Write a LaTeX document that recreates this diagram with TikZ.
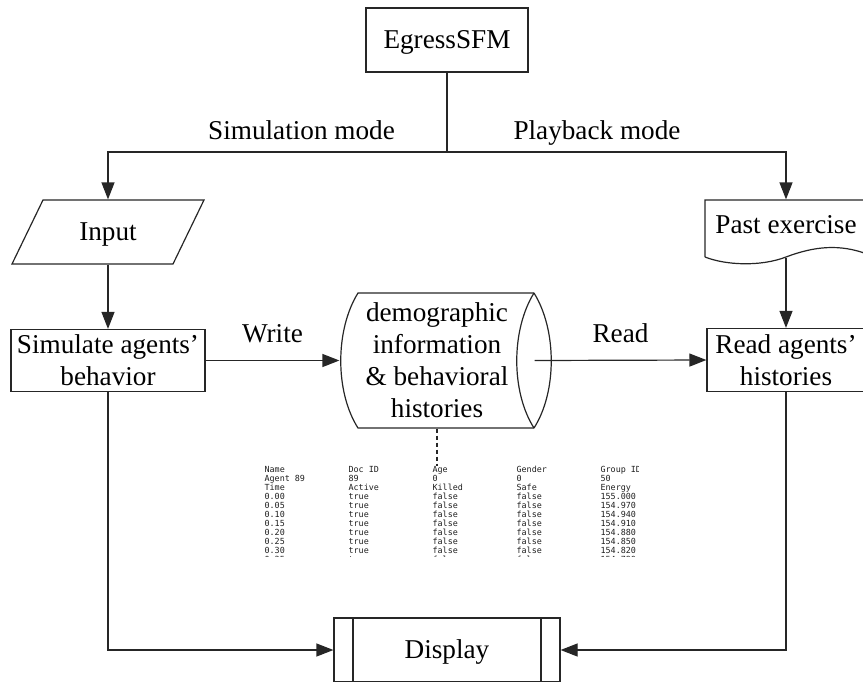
\documentclass[tikz,border=0pt]{standalone}
\usepackage{fontspec}
\setmainfont{Liberation Serif}
\newfontfamily\logfont{DejaVu Sans Mono}
\usetikzlibrary{arrows.meta}

\begin{document}
\begin{tikzpicture}[x=0.5pt,y=-0.5pt,
  line width=0.6pt, draw=black!85,
  every node/.style={font=\fontsize{13.6pt}{16pt}\selectfont, inner sep=0pt},
  arr/.style={-{Triangle[length=8.5pt,width=6.5pt]}},
  oneline/.style={text height=9.5pt, text depth=1pt},
  box/.style={draw, rectangle, align=center},
  dispbox/.style={draw, rectangle,
    path picture={
      \draw ([xshift=9.5pt]path picture bounding box.north west) -- ([xshift=9.5pt]path picture bounding box.south west);
      \draw ([xshift=-9.5pt]path picture bounding box.north east) -- ([xshift=-9.5pt]path picture bounding box.south east);
    }},
  logtab/.style={font=\logfont\fontsize{4.2pt}{4.2pt}\selectfont, text=black!88, anchor=north west, inner sep=0pt},
  link/.style={dash pattern=on 2pt off 1.5pt}
]
\clip (0,0) rectangle (863,681);

% top-level program
\node[box, oneline, minimum width=81pt, minimum height=32pt] (sfm) at (447,40) {EgressSFM};
\coordinate (split) at (447,152);
\node[anchor=base] (simlbl) at (301.5,139) {Simulation mode};
\node[anchor=base] (playlbl) at (597,139) {Playback mode};

% simulation branch
\node[oneline, minimum width=80pt, minimum height=32pt] (input) at (108,232) {Input};
\draw (43,200) -- (204,200) -- (173,264) -- (12,264) -- cycle;
\node[box, minimum width=97pt, minimum height=31pt] (sim) at (108,360.5) {Simulate agents'\\behavior};

% stored data
\node[align=center, minimum width=97pt, minimum height=67.5pt] (store) at (437,360.5)
  {demographic\\information\\\& behavioral\\histories};
\draw (534,293) -- (358,293) .. controls (335,330) and (335,392) .. (358,428) -- (534,428);
\draw (534,293) .. controls (511,330) and (511,392) .. (534,428);
\draw (534,293) .. controls (557,330) and (557,392) .. (534,428);

% playback branch
\node[oneline, minimum width=81pt, minimum height=25pt] (past) at (786,225) {Past exercise};
\draw (705,257) -- (705,200) -- (867,200) -- (867,254)
  .. controls (840,244) and (815,246) .. (786,257)
  .. controls (760,267) and (725,265) .. (705,257);
\coordinate (pastwave) at (786,258);
\node[box, minimum width=79pt, minimum height=31.5pt] (read) at (786,360) {Read agents'\\histories};

% output
\node[dispbox, oneline, minimum width=113pt, minimum height=32pt] (disp) at (447,650) {Display};

% sample of a stored history file
\begin{scope}
  \clip (258,462) rectangle (638,556);
  \node[logtab] (tbl) at (264,466) {%
    \setlength{\tabcolsep}{0pt}\renewcommand{\arraystretch}{1}%
    \begin{tabular}{@{}*{5}{p{42pt}}@{}}
    Name & Doc ID & Age & Gender & Group ID\\
    Agent 89 & 89 & 0 & 0 & 50\\
    Time & Active & Killed & Safe & Energy\\
    0.00 & true & false & false & 155.000\\
    0.05 & true & false & false & 154.970\\
    0.10 & true & false & false & 154.940\\
    0.15 & true & false & false & 154.910\\
    0.20 & true & false & false & 154.880\\
    0.25 & true & false & false & 154.850\\
    0.30 & true & false & false & 154.820\\
    0.35 & true & false & false & 154.790
    \end{tabular}};
\end{scope}

% connectors
\draw (sfm.south) -- (split);
\draw[arr] (split) -| (input.north);
\draw[arr] (split) -| (past.north);
\draw[arr] (input.south) -- (sim.north);
\draw[arr] (sim.east) -- node[anchor=base, yshift=9pt] {Write} (store.west);
\draw[arr] (store.east) -- node[anchor=base, yshift=9pt] {Read} (read.west);
\draw[arr] (pastwave) -- (read.north);
\draw[arr] (sim.south) |- (disp.west);
\draw[arr] (read.south) |- (disp.east);
\draw[link] (store.south) -- (store.south |- tbl.north);
\end{tikzpicture}
\end{document}
